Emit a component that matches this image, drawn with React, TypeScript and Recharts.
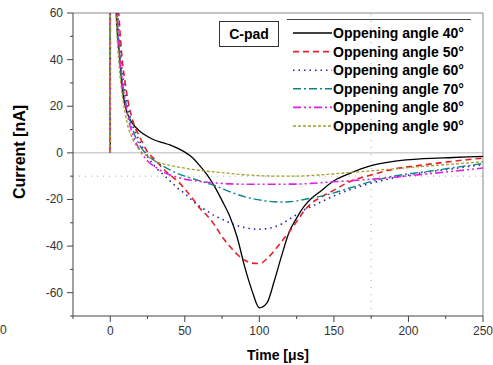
import { LineChart, Line, XAxis, YAxis, ReferenceLine, Legend, Label } from "recharts";

// time axis in µs (the 0 -> 0.1 step is the switch-on spike)
const time = [0, 0.1, 2, 4, 6, 8, 10, 12, 15, 20, 25, 30, 35, 40, 45, 50, 55, 60, 65, 70, 75, 80, 85, 90, 95, 100, 105, 110, 115, 120, 125, 130, 135, 140, 150, 160, 175, 190, 210, 230, 250];

const angle40 = [0, 200, 110, 60, 43, 28, 20, 16, 12.5, 9.2, 7, 5.4, 4.4, 3.4, 2, 0.3, -2, -5.5, -9.5, -14.5, -20.5, -27, -36, -48.5, -59, -66.5, -64.5, -55, -44, -34, -28, -23, -19.5, -17, -12, -9, -5.5, -3.7, -2.5, -2, -1.5];
const angle50 = [0, 200, 130, 80, 57, 40, 30, 22, 14, 6.5, 0.5, -3, -6.5, -9.5, -12, -15.5, -19.5, -23.7, -27, -31, -36, -40, -43.5, -46, -47.3, -47.5, -45.5, -42, -38, -34, -29.5, -25, -21.5, -19.5, -16, -12.5, -9.5, -7, -5.2, -3.6, -2.2];
const angle60 = [0, 200, 125, 75, 50, 35, 26, 19, 12, 4.5, -1.5, -6, -9, -12, -15, -17.5, -20.5, -23, -25, -27, -28.5, -30, -31.2, -32, -32.6, -32.8, -32.5, -31.8, -30.5, -28.5, -26.5, -24.5, -23, -21.5, -18.5, -16, -13, -10.8, -8.5, -6.8, -5];
const angle70 = [0, 200, 115, 68, 45, 31, 23, 17, 10, 3, -1, -3.5, -5.5, -7.3, -8.8, -10, -11, -12, -13, -14, -15.3, -16.6, -17.8, -18.8, -19.6, -20.2, -20.7, -21, -21.1, -21, -20.6, -20, -19.4, -18.8, -17.2, -15.2, -12.3, -10, -8.2, -6.4, -4.6];
const angle80 = [0, 200, 120, 70, 46, 31, 22, 15, 8, 1, -3.5, -6, -8, -9.5, -10.5, -11.3, -11.8, -12.3, -12.6, -12.9, -13.1, -13.3, -13.4, -13.5, -13.5, -13.5, -13.5, -13.5, -13.5, -13.4, -13.4, -13.3, -13.1, -12.9, -12.4, -12, -11.3, -10.5, -9.2, -7.9, -6.5];
const angle90 = [0, 200, 105, 58, 37, 25, 17, 11, 6, 1, -1.5, -3.5, -4.6, -5.4, -6, -6.6, -7.1, -7.5, -7.9, -8.2, -8.5, -8.8, -9.1, -9.4, -9.6, -9.8, -9.9, -10, -10, -10, -10, -9.9, -9.7, -9.5, -9, -8.5, -7.7, -6.9, -5.8, -4.8, -3.8];

const xTicks = [-25, 0, 25, 50, 75, 100, 125, 150, 175, 200, 225, 250];
const xLabels = [0, 50, 100, 150, 200, 250];
const yTicks = [-70, -60, -50, -40, -30, -20, -10, 0, 10, 20, 30, 40, 50, 60];
const yLabels = [-60, -40, -20, 0, 20, 40, 60];

const series = [
  { key: "a40", name: "Oppening angle 40°", values: angle40, color: "#000000", dash: undefined, width: 1.3 },
  { key: "a50", name: "Oppening angle 50°", values: angle50, color: "#e8202a", dash: "6 4", width: 1.6 },
  { key: "a60", name: "Oppening angle 60°", values: angle60, color: "#2424a8", dash: "1.5 4", width: 1.6 },
  { key: "a70", name: "Oppening angle 70°", values: angle70, color: "#108484", dash: "8 3 2 3", width: 1.4 },
  { key: "a80", name: "Oppening angle 80°", values: angle80, color: "#e020e0", dash: "8 3 2 3 2 3", width: 1.6 },
  { key: "a90", name: "Oppening angle 90°", values: angle90, color: "#a0a028", dash: "3 2", width: 1.3 },
];

const rows = time.map((t, i) => {
  const row: Record<string, number> = { t };
  series.forEach((s) => { row[s.key] = s.values[i]; });
  return row;
});

const FONT = "Arial, 'Liberation Sans', sans-serif";
const PLOT_LEFT = 73;
const PLOT_BOTTOM = 316;

const YTick = (props: any) => {
  const { y, payload } = props;
  const major = yLabels.includes(payload.value);
  return (
    <g>
      <line x1={PLOT_LEFT - (major ? 6 : 3)} x2={PLOT_LEFT} y1={y} y2={y} stroke="#444" />
      {major && (
        <text x={PLOT_LEFT - 10} y={y} dy={4} textAnchor="end" fontSize={12} fontFamily={FONT} fill="#333">
          {payload.value}
        </text>
      )}
    </g>
  );
};

const XTick = (props: any) => {
  const { x, payload } = props;
  const major = xLabels.includes(payload.value);
  return (
    <g>
      <line x1={x} x2={x} y1={PLOT_BOTTOM} y2={PLOT_BOTTOM + (major ? 6 : 3)} stroke="#444" />
      {major && (
        <text x={x} y={PLOT_BOTTOM + 19} textAnchor="middle" fontSize={12} fontFamily={FONT} fill="#333">
          {payload.value}
        </text>
      )}
    </g>
  );
};

const renderLegend = (props: any) => {
  const items = props.payload ?? [];
  return (
    <svg width={200} height={125} style={{ display: "block" }}>
      <line x1={0} x2={184} y1={0.5} y2={0.5} stroke="#444" />
      {items.map((it: any, i: number) => {
        const s = series.find((d) => d.name === it.value) ?? series[i];
        const cy = 14 + i * 18.6;
        return (
          <g key={s.key}>
            <line x1={6} x2={45} y1={cy} y2={cy} stroke={s.color} strokeWidth={s.width} strokeDasharray={s.dash} />
            <text x={46} y={cy} dy={5} fontSize={14} fontWeight="bold" fontFamily={FONT} fill="#000">
              {s.name}
            </text>
          </g>
        );
      })}
    </svg>
  );
};

const YTitle = (props: any) => {
  const { viewBox } = props;
  const cx = viewBox.x + 20;
  const cy = viewBox.y + 139;
  return (
    <text x={cx} y={cy} transform={`rotate(-90 ${cx} ${cy})`} textAnchor="middle" dy={5} fontSize={16} fontWeight="bold" fontFamily={FONT} fill="#000">
      Current [nA]
    </text>
  );
};

export default function App() {
  return (
    <div style={{ position: "absolute", left: 0, top: 0, width: 493, height: 365, background: "#fff", overflow: "hidden" }}>
      <LineChart width={493} height={365} data={rows} margin={{ top: 13, right: 10, bottom: 0, left: 0 }}>
        <XAxis
          dataKey="t"
          type="number"
          domain={[-25, 250]}
          ticks={xTicks}
          allowDataOverflow
          height={49}
          axisLine={{ stroke: "#444" }}
          tickLine={false}
          tick={<XTick />}
          interval={0}
        >
          <Label value="Time [μs]" position="insideBottom" offset={5} fontSize={14} fontWeight="bold" fontFamily={FONT} fill="#000" />
        </XAxis>
        <YAxis
          type="number"
          domain={[-70, 60]}
          ticks={yTicks}
          allowDataOverflow
          width={73}
          axisLine={{ stroke: "#444" }}
          tickLine={false}
          tick={<YTick />}
          interval={0}
        >
          <Label content={<YTitle />} />
        </YAxis>
        <ReferenceLine y={0} stroke="#cfcfcf" strokeWidth={1.5} />
        <ReferenceLine y={-10} stroke="#aaa" strokeDasharray="1 5" />
        <ReferenceLine x={175} stroke="#aaa" strokeDasharray="1 6" />
        <ReferenceLine y={60} stroke="#888" />
        <ReferenceLine x={250} stroke="#888" />
        {series.map((s) => (
          <Line
            key={s.key}
            dataKey={s.key}
            name={s.name}
            type="monotone"
            stroke={s.color}
            strokeWidth={s.width}
            strokeDasharray={s.dash}
            dot={false}
            activeDot={false}
            isAnimationActive={false}
          />
        ))}
        <Legend
          layout="vertical"
          align="center"
          verticalAlign="middle"
          content={renderLegend}
          wrapperStyle={{ left: 287, top: 19, width: 200, height: 125 }}
        />
      </LineChart>
      <div
        style={{
          position: "absolute", left: 219, top: 21, width: 58, height: 24,
          border: "1px solid #333", fontFamily: FONT, fontWeight: "bold", fontSize: 14,
          lineHeight: "24px", textAlign: "center", background: "#fff",
        }}
      >
        C-pad
      </div>
      <span style={{ position: "absolute", left: 0, top: 323, fontFamily: FONT, fontSize: 12, color: "#333" }}>0</span>
    </div>
  );
}
